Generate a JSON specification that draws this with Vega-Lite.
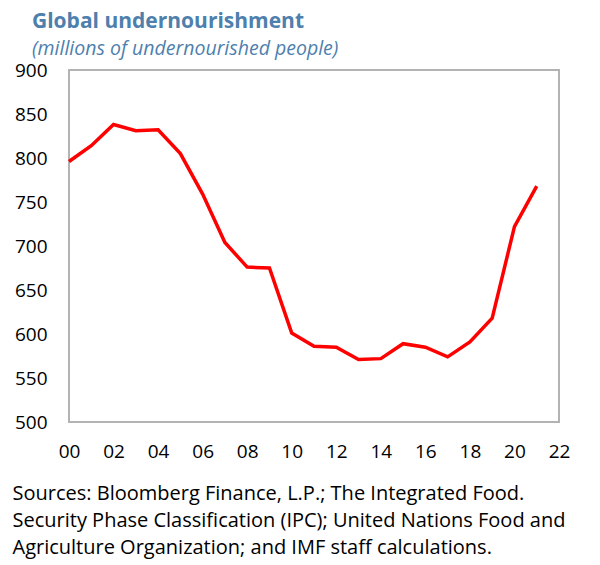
{
  "$schema": "https://vega.github.io/schema/vega-lite/v6.json",
  "width": 490,
  "height": 352,
  "autosize": {"type": "none"},
  "padding": {"left": 69, "top": 70, "right": 41, "bottom": 143},
  "background": "white",
  "title": {
    "text": "Global undernourishment",
    "subtitle": "(millions of undernourished people)",
    "anchor": "start",
    "frame": "group",
    "dx": -37,
    "offset": 3,
    "font": "Open Sans",
    "fontSize": 21,
    "fontWeight": "bold",
    "color": "#4e7fad",
    "subtitleFont": "Open Sans",
    "subtitleFontSize": 19.5,
    "subtitleFontStyle": "italic",
    "subtitleColor": "#4e7fad",
    "subtitlePadding": 8
  },
  "config": {
    "view": {"stroke": "#b3b3b3", "strokeWidth": 2},
    "axis": {"grid": false, "domain": false, "ticks": false, "labelFont": "Open Sans", "labelFontSize": 19, "labelColor": "#000000"}
  },
  "data": {
    "values": [
      {"year": 0, "value": 796},
      {"year": 1, "value": 814},
      {"year": 2, "value": 838},
      {"year": 3, "value": 831},
      {"year": 4, "value": 832},
      {"year": 5, "value": 805},
      {"year": 6, "value": 759},
      {"year": 7, "value": 704},
      {"year": 8, "value": 676},
      {"year": 9, "value": 675},
      {"year": 10, "value": 601},
      {"year": 11, "value": 586},
      {"year": 12, "value": 585},
      {"year": 13, "value": 571},
      {"year": 14, "value": 572},
      {"year": 15, "value": 589},
      {"year": 16, "value": 585},
      {"year": 17, "value": 574},
      {"year": 18, "value": 591},
      {"year": 19, "value": 618},
      {"year": 20, "value": 722},
      {"year": 21, "value": 768}
    ]
  },
  "mark": {"type": "line", "color": "#ff0000", "strokeWidth": 3.5},
  "encoding": {
    "x": {
      "field": "year",
      "type": "quantitative",
      "scale": {"domain": [0, 22], "nice": false, "zero": false},
      "axis": {
        "values": [0, 2, 4, 6, 8, 10, 12, 14, 16, 18, 20, 22],
        "labelExpr": "datum.value < 10 ? '0' + datum.value : '' + datum.value",
        "labelPadding": 20,
        "labelFlush": false,
        "title": ["Sources: Bloomberg Finance, L.P.; The Integrated Food.", "Security Phase Classification (IPC); United Nations Food and", "Agriculture Organization; and IMF staff calculations."],
        "titleFont": "Open Sans",
        "titleFontSize": 20,
        "titleFontWeight": "normal",
        "titleColor": "#000000",
        "titleAnchor": "start",
        "titleAlign": "left",
        "titleBaseline": "top",
        "titleX": -57,
        "titleY": 61,
        "titleLineHeight": 27
      }
    },
    "y": {
      "field": "value",
      "type": "quantitative",
      "scale": {"domain": [500, 900], "nice": false, "zero": false},
      "axis": {
        "values": [500, 550, 600, 650, 700, 750, 800, 850, 900],
        "labelPadding": 22,
        "title": null
      }
    }
  }
}
